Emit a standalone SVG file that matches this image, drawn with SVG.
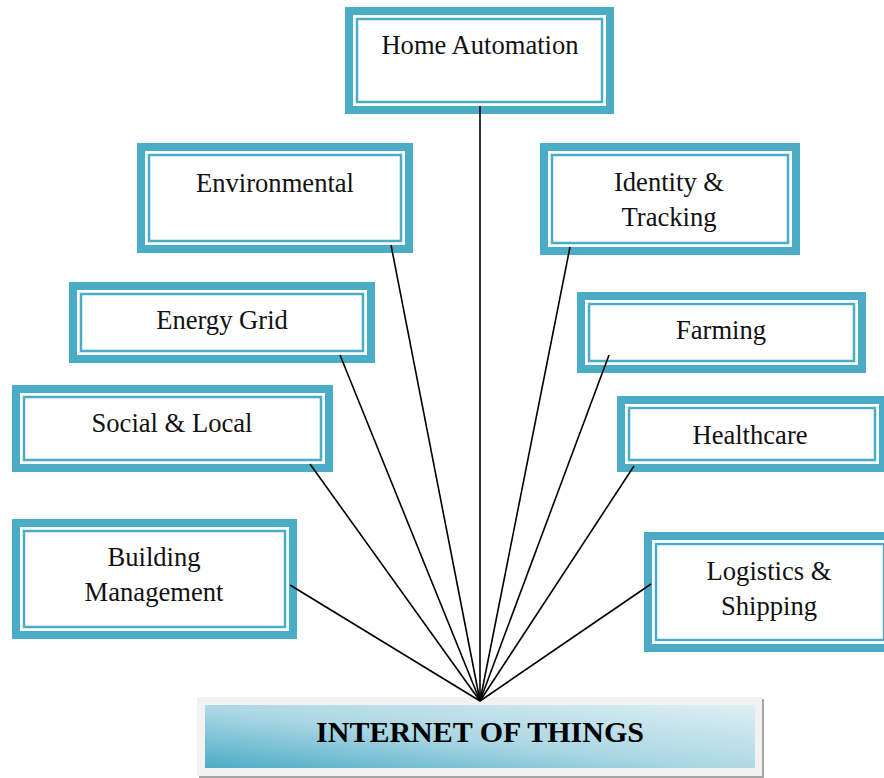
<svg xmlns="http://www.w3.org/2000/svg" width="884" height="778" viewBox="0 0 884 778">
<style>
.o{fill:#fff;stroke:#4BACC6;stroke-width:8}
.i{fill:none;stroke:#4BACC6;stroke-width:2.5}
.t{font-family:"Liberation Serif","Times New Roman",serif;font-size:26.6px;fill:#111;text-anchor:middle}
.c line{stroke:#000;stroke-width:1.6}
</style>
<defs>
<linearGradient id="g" x1="0" y1="1" x2="1" y2="0">
<stop offset="0" stop-color="#4BACC6"/>
<stop offset="0.45" stop-color="#A9D6E3"/>
<stop offset="1" stop-color="#DEEFF4"/>
</linearGradient>
</defs>
<rect width="884" height="778" fill="#fff"/>
<g id="home"><rect class="o" x="349" y="11" width="261" height="99"/><rect class="i" x="357" y="19" width="245" height="83"/><text class="t" x="480" y="54">Home Automation</text></g>
<g id="environmental"><rect class="o" x="141" y="147" width="268" height="102"/><rect class="i" x="149" y="155" width="252" height="86"/><text class="t" x="275" y="192">Environmental</text></g>
<g id="identity"><rect class="o" x="544" y="147" width="252" height="104"/><rect class="i" x="552" y="155" width="236" height="88"/><text class="t" x="669" y="191">Identity &amp;</text><text class="t" x="669" y="226">Tracking</text></g>
<g id="energy"><rect class="o" x="73" y="286" width="298" height="73"/><rect class="i" x="81" y="294" width="282" height="57"/><text class="t" x="222" y="329">Energy Grid</text></g>
<g id="farming"><rect class="o" x="581" y="296" width="281" height="73"/><rect class="i" x="589" y="304" width="265" height="57"/><text class="t" x="721" y="339">Farming</text></g>
<g id="social"><rect class="o" x="16" y="389" width="313" height="79"/><rect class="i" x="24" y="397" width="297" height="63"/><text class="t" x="172" y="432">Social &amp; Local</text></g>
<g id="healthcare"><rect class="o" x="621" y="400" width="262" height="68"/><rect class="i" x="629" y="408" width="246" height="52"/><text class="t" x="750" y="444">Healthcare</text></g>
<g id="building"><rect class="o" x="16" y="523" width="277" height="112"/><rect class="i" x="24" y="531" width="261" height="96"/><text class="t" x="154" y="566">Building</text><text class="t" x="154" y="601">Management</text></g>
<g id="logistics"><rect class="o" x="648" y="536" width="244" height="112"/><rect class="i" x="656" y="544" width="228" height="96"/><text class="t" x="769" y="580">Logistics &amp;</text><text class="t" x="769" y="615">Shipping</text></g>
<g id="iot">
<rect x="199" y="699" width="565" height="79" fill="#A6A6A6"/>
<rect x="197" y="697" width="565" height="79" fill="#F2F2F2"/>
<rect x="205" y="705" width="550" height="63" fill="url(#g)"/>
<text x="480" y="742" font-family="'Liberation Serif','Times New Roman',serif" font-size="30" font-weight="bold" text-anchor="middle" fill="#000">INTERNET OF THINGS</text>
</g>
<g class="c" id="connectors">
<line x1="480" y1="106" x2="480" y2="701"/>
<line x1="391" y1="245" x2="480" y2="701"/>
<line x1="570" y1="247" x2="480" y2="701"/>
<line x1="340" y1="355" x2="480" y2="701"/>
<line x1="609" y1="355" x2="480" y2="701"/>
<line x1="310" y1="464" x2="480" y2="701"/>
<line x1="634" y1="466" x2="480" y2="701"/>
<line x1="290" y1="585" x2="480" y2="701"/>
<line x1="651" y1="584" x2="480" y2="701"/>
</g>
</svg>
